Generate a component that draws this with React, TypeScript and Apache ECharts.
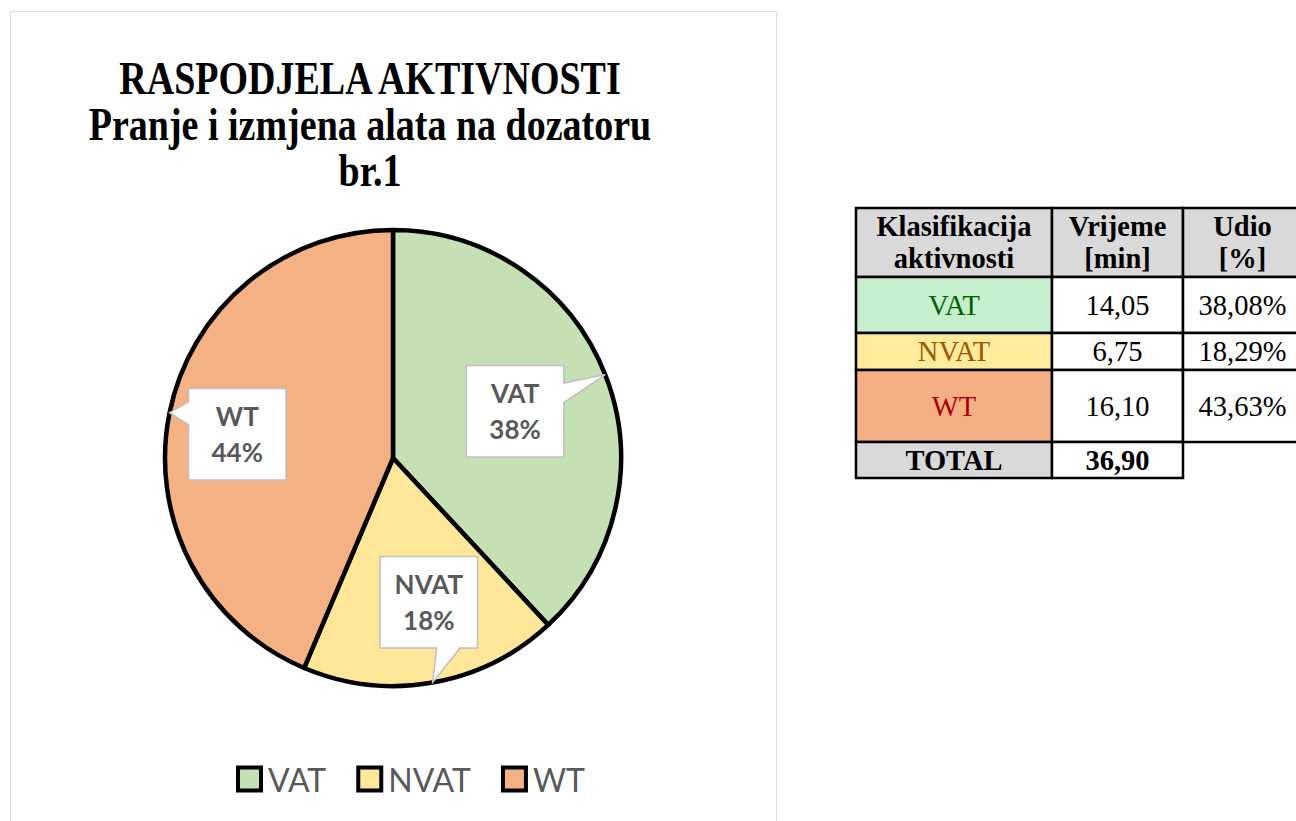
import React, { useEffect, useRef } from "react";
import * as echarts from "echarts";

// ---------- data ----------
const categories = ["VAT", "NVAT", "WT"];
const minutes = [14.05, 6.75, 16.1];
const sliceColors = ["#C5E0B4", "#FFE699", "#F4B183"];
const titleLines = ["RASPODJELA AKTIVNOSTI", "Pranje i izmjena alata na dozatoru", "br.1"];
const tableHeaders = ["Klasifikacija\naktivnosti", "Vrijeme\n[min]", "Udio\n[%]"];
const tableCellColors = ["#C6EFCE", "#FFEB9C", "#F4B084"];
const tableTextColors = ["#006100", "#9C5700", "#A50008"];
const totalLabel = "TOTAL";

// ---------- layout ----------
const PIE_CX = 393;
const PIE_CY = 458;
const PIE_R = 228;
const BOX_W = 96;
const BOX_H = 90;
// offset of each callout from the default inside-label position
const labelOffsets = [
  [16, -5],
  [16, 32],
  [-44, -1],
];
// pointer base on box edge: side, from, to (relative to box centre)
const pointerSpecs: [string, number, number][] = [
  ["right", -28, -8],
  ["bottom", 8, 32],
  ["left", -33, -9],
];
const colX = [856, 1052, 1183, 1302];
const rowY = [208, 277, 333, 370, 442, 478];

const fmt = (v: number) => v.toFixed(2).replace(".", ",");

function buildGeometry() {
  const total = minutes.reduce((a, b) => a + b, 0);
  let acc = 0;
  return minutes.map((v, i) => {
    const frac = v / total;
    const mid = (acc + frac / 2) * Math.PI * 2;
    acc += frac;
    const dx = Math.sin(mid);
    const dy = -Math.cos(mid);
    const cx = PIE_CX + (PIE_R / 2) * dx + labelOffsets[i][0];
    const cy = PIE_CY + (PIE_R / 2) * dy + labelOffsets[i][1];
    const tip = [PIE_CX + PIE_R * dx, PIE_CY + PIE_R * dy];
    return { cx, cy, tip };
  });
}

export default function App() {
  const ref = useRef<HTMLDivElement>(null);
  useEffect(() => {
    if (!ref.current) return;
    const chart = echarts.init(ref.current, undefined, { renderer: "svg" });
    const geo = buildGeometry();
    const total = minutes.reduce((a, b) => a + b, 0);

    const graphics: any[] = [];
    // chart area border
    graphics.push({
      type: "rect",
      shape: { x: 10.5, y: 11.5, width: 766, height: 840 },
      style: { fill: "none", stroke: "#D9D9D9", lineWidth: 1 },
      z: 0,
    });
    // title
    graphics.push({
      type: "text",
      x: 370,
      y: 125,
      scaleY: 1.2,
      style: {
        text: titleLines.join("\n"),
        fontFamily: "Liberation Serif",
        fontWeight: "bold",
        fontSize: 38,
        lineHeight: 46 / 1.2,
        align: "center",
        verticalAlign: "middle",
        fill: "#000",
      },
    });
    // callout pointers
    geo.forEach((g, i) => {
      const [side, a, b] = pointerSpecs[i];
      let p1: number[], p2: number[], q1: number[], q2: number[];
      const inset = 2;
      if (side === "right") {
        const x = g.cx + BOX_W / 2;
        p1 = [x, g.cy + a]; p2 = [x, g.cy + b];
        q1 = [x - inset, g.cy + a]; q2 = [x - inset, g.cy + b];
      } else if (side === "left") {
        const x = g.cx - BOX_W / 2;
        p1 = [x, g.cy + a]; p2 = [x, g.cy + b];
        q1 = [x + inset, g.cy + a]; q2 = [x + inset, g.cy + b];
      } else {
        const y = g.cy + BOX_H / 2;
        p1 = [g.cx + a, y]; p2 = [g.cx + b, y];
        q1 = [g.cx + a, y - inset]; q2 = [g.cx + b, y - inset];
      }
      graphics.push({
        type: "polygon",
        z: 100,
        shape: { points: [q1, g.tip, q2] },
        style: { fill: "#FFFFFF", stroke: "none" },
      });
      graphics.push({
        type: "polyline",
        z: 101,
        shape: { points: [p1, g.tip, p2] },
        style: { fill: "none", stroke: "#BFBFBF", lineWidth: 1.5 },
      });
    });

    // table
    const cell = (c: number, r: number, fill: string, text: string, color: string, bold: boolean) => {
      const x0 = colX[c], x1 = colX[c + 1], y0 = rowY[r], y1 = rowY[r + 1];
      graphics.push({
        type: "rect",
        z: 10,
        shape: { x: x0, y: y0, width: x1 - x0, height: y1 - y0 },
        style: { fill, stroke: "#000", lineWidth: 2.5 },
      });
      graphics.push({
        type: "text",
        z: 11,
        x: (x0 + x1) / 2,
        y: (y0 + y1) / 2,
        style: {
          text,
          fontFamily: "Liberation Serif",
          fontWeight: bold ? "bold" : "normal",
          fontSize: 28.5,
          lineHeight: 32,
          align: "center",
          verticalAlign: "middle",
          fill: color,
        },
      });
    };
    tableHeaders.forEach((h, c) => cell(c, 0, "#D9D9D9", h, "#000", true));
    categories.forEach((name, i) => {
      cell(0, i + 1, tableCellColors[i], name, tableTextColors[i], false);
      cell(1, i + 1, "#FFFFFF", fmt(minutes[i]), "#000", false);
      cell(2, i + 1, "#FFFFFF", fmt((minutes[i] / total) * 100) + "%", "#000", false);
    });
    cell(0, 4, "#D9D9D9", totalLabel, "#000", true);
    cell(1, 4, "#FFFFFF", fmt(total), "#000", true);

    // legend rich boxes
    const rich: any = {
      t: { fontFamily: "Lato", fontSize: 32, color: "#595959", lineHeight: 34, padding: [0, 0, 0, 9] },
    };
    categories.forEach((_, i) => {
      rich["b" + i] = {
        width: 19,
        height: 19,
        backgroundColor: sliceColors[i],
        borderColor: "#000000",
        borderWidth: 4,
        verticalAlign: "middle",
      };
    });

    chart.setOption({
      animation: false,
      backgroundColor: "#FFFFFF",
      legend: {
        data: categories,
        left: 229,
        top: 758,
        icon: "rect",
        itemWidth: 0.01,
        itemHeight: 20,
        itemGap: 28,
        itemStyle: { opacity: 0 },
        formatter: (name: string) => `{b${categories.indexOf(name)}|}{t|${name}}`,
        textStyle: { rich },
      },
      graphic: graphics,
      series: [
        {
          type: "pie",
          center: [PIE_CX, PIE_CY],
          radius: PIE_R,
          startAngle: 90,
          clockwise: true,
          percentPrecision: 0,
          data: categories.map((name, i) => ({ name, value: minutes[i], itemStyle: { color: sliceColors[i] } })),
          itemStyle: { borderColor: "#000", borderWidth: 4.5 },
          emphasis: { disabled: true },
          label: {
            show: true,
            position: "inside",
            formatter: "{b}\n{d}%",
            fontFamily: "Lato",
            fontWeight: "bold",
            fontSize: 26,
            lineHeight: 36,
            color: "#595959",
            backgroundColor: "#FFFFFF",
            borderColor: "#BFBFBF",
            borderWidth: 1.5,
            width: BOX_W,
            height: BOX_H - 18,
            padding: [9, 0],
            align: "center",
          },
          labelLine: { show: false },
          labelLayout: (params: any) => {
            const g = geo[params.dataIndex];
            return { x: g.cx, y: g.cy };
          },
        },
      ],
    });
    return () => chart.dispose();
  }, []);
  return <div ref={ref} style={{ position: "absolute", left: 0, top: 0, width: 1296, height: 821 }} />;
}
